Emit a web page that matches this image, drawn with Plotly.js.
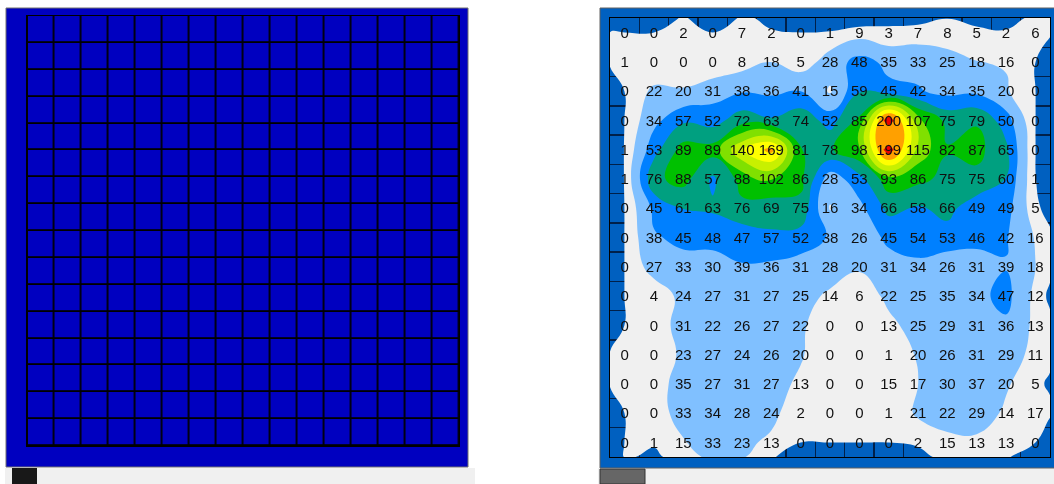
<!DOCTYPE html>
<html>
<head>
<meta charset="utf-8">
<script src="https://cdn.plot.ly/plotly-3.0.1.min.js"></script>
<style>
html,body{margin:0;padding:0;background:#fff;overflow:hidden}
#chart{width:1054px;height:484px;filter:blur(0.7px)}
</style>
</head>
<body>
<div id="chart"></div>
<script>
// Left map: all cells read as zero
var leftRows = 16, leftCols = 16;
var leftValues = [];
for (var r = 0; r < leftRows; r++) { leftValues.push(new Array(leftCols).fill(0)); }

// Right map: printed cell values
var row01 = [0,0,2,0,7,2,0,1,9,3,7,8,5,2,6];
var row02 = [1,0,0,0,8,18,5,28,48,35,33,25,18,16,0];
var row03 = [0,22,20,31,38,36,41,15,59,45,42,34,35,20,0];
var row04 = [0,34,57,52,72,63,74,52,85,200,107,75,79,50,0];
var row05 = [1,53,89,89,140,169,81,78,98,199,115,82,87,65,0];
var row06 = [1,76,88,57,88,102,86,28,53,93,86,75,75,60,1];
var row07 = [0,45,61,63,76,69,75,16,34,66,58,66,49,49,5];
var row08 = [0,38,45,48,47,57,52,38,26,45,54,53,46,42,16];
var row09 = [0,27,33,30,39,36,31,28,20,31,34,26,31,39,18];
var row10 = [0,4,24,27,31,27,25,14,6,22,25,35,34,47,12];
var row11 = [0,0,31,22,26,27,22,0,0,13,25,29,31,36,13];
var row12 = [0,0,23,27,24,26,20,0,0,1,20,26,31,29,11];
var row13 = [0,0,35,27,31,27,13,0,0,15,17,30,37,20,5];
var row14 = [0,0,33,34,28,24,2,0,0,1,21,22,29,14,17];
var row15 = [0,1,15,33,23,13,0,0,0,0,2,15,13,13,0];
var cellValues = [row01,row02,row03,row04,row05,row06,row07,row08,row09,row10,row11,row12,row13,row14,row15];

// Estimated field values along the outer edge of the map (corner, 15 cells, corner)
var edgeTop    = [-30,-30,-30,5,-30,5,-8,-30,-15,-15,-5,-7,-1,-8,-10,5,5];
var edgeBottom = [-30,1,-3,5,25,20,5,-30,-30,-30,-30,-6,5,5,5,-30,-30];
// left and right edges, one per row
var edgeLeft  = [0,2,-30,-30,-30,-30,-30,-30,-30,-30,-30,1,1,-30,-30];
var edgeRight = [5,-30,-30,-30,-30,-30,-10,5,5,-5,5,5,-4,5,-30];
// value of an off-map ring, outside the visible axis range, so every contour closes
var offMap = -30;

var lowColors = ['rgba(0,0,0,0)','#f0f0f0','#80c0ff'];
var highColors = ['rgba(0,0,0,0)','#0080ff','#00a080','#00c000','#80e000','#c8f000','#ffff00','#ffa000','#ffa000','#ffa000'];
var peakThreshold = 199;

var W = 1054, H = 484;
function px(x){ return x / W; }
function py(y){ return 1 - y / H; }

var n = cellValues.length;
var centers = cellValues[0].map(function(_, i){ return i + 0.5; });
var xEdge = [-1, 0].concat(centers, [n, n + 1]);
var yEdge = xEdge.slice();
function padRow(a){ return [offMap].concat(a, [offMap]); }
var field = [new Array(n + 4).fill(offMap), padRow(edgeTop)];
cellValues.forEach(function(row, i){ field.push(padRow([edgeLeft[i]].concat(row, [edgeRight[i]]))); });
field.push(padRow(edgeBottom));
field.push(new Array(n + 4).fill(offMap));

function steps(colors){
  var scale = [];
  colors.forEach(function(c, i){
    scale.push([i / colors.length, c]);
    scale.push([(i + 1) / colors.length, c]);
  });
  return scale;
}

var textX = [], textY = [], textS = [], peakX = [], peakY = [];
cellValues.forEach(function(row, r){
  row.forEach(function(v, c){
    textX.push(c + 0.5); textY.push(r + 0.55); textS.push(String(v));
    if (v >= peakThreshold) { peakX.push(c + 0.5); peakY.push(r + 0.5); }
  });
});

var traces = [
  { type:'heatmap', z:leftValues, x0:0.5, dx:1, y0:0.5, dy:1, xaxis:'x', yaxis:'y',
    colorscale:[[0,'#0000c0'],[1,'#0000c0']], zmin:0, zmax:1, showscale:false, xgap:1.8, ygap:1.8, hoverinfo:'skip' },
  { type:'contour', z:field, x:xEdge, y:yEdge, xaxis:'x2', yaxis:'y2',
    contours:{start:-0.5, end:17.5, size:18, coloring:'fill', showlines:false},
    line:{width:0, smoothing:1.3}, colorscale:steps(lowColors), zmin:-18.5, zmax:35.5, showscale:false, hoverinfo:'skip' },
  { type:'contour', z:field, x:xEdge, y:yEdge, xaxis:'x2', yaxis:'y2',
    contours:{start:40.1, end:202.5, size:20.3, coloring:'fill', showlines:false},
    line:{width:0, smoothing:1.3}, colorscale:steps(highColors), zmin:19.8, zmax:222.8, showscale:false, hoverinfo:'skip' },
  { type:'scatter', mode:'markers', x:peakX, y:peakY, xaxis:'x2', yaxis:'y2',
    marker:{symbol:'diamond', size:8, color:'#f00000'}, hoverinfo:'skip', showlegend:false },
  { type:'scatter', mode:'text', x:textX, y:textY, text:textS, xaxis:'x2', yaxis:'y2',
    textposition:'middle center', textfont:{family:'"Liberation Sans", Arial, sans-serif', size:15, color:'#101010'},
    hoverinfo:'skip', showlegend:false }
];

function axis(domain, range, extra){
  return Object.assign({domain:domain, range:range, showticklabels:false, ticks:'', zeroline:false,
    showgrid:false, showline:true, mirror:true, linecolor:'#000000', linewidth:1.4, fixedrange:true}, extra || {});
}

function rect(x0,y0,x1,y1,color,lineColor){
  return {type:'rect', xref:'paper', yref:'paper', layer:'below', x0:px(x0), x1:px(x1), y0:py(y0), y1:py(y1),
    fillcolor:color, line:{width:lineColor?1:0, color:lineColor||color}};
}

var layout = {
  width:W, height:H, autosize:false,
  margin:{l:0,r:0,t:0,b:0,pad:0},
  paper_bgcolor:'#ffffff', plot_bgcolor:'rgba(0,0,0,0)', showlegend:false,
  xaxis:axis([px(27.5),px(459)],[0,leftCols],{anchor:'y'}),
  yaxis:axis([py(446),py(16)],[leftRows,0],{anchor:'x'}),
  xaxis2:axis([px(610),px(1050)],[0,n],{anchor:'y2',showgrid:true,gridcolor:'#00204a',gridwidth:1.4,dtick:1,tick0:0}),
  yaxis2:axis([py(457),py(18)],[n,0],{anchor:'x2',showgrid:true,gridcolor:'#00204a',gridwidth:1.4,dtick:1,tick0:0}),
  shapes:[
    rect(5,468,475,484,'#f0f0f0'),
    rect(598,468,1054,484,'#f0f0f0'),
    rect(12,468,37,484,'#181818'),
    rect(600,469,645,484,'#666666','#333333'),
    rect(6,8,468,467,'#0000c0','#707070'),
    rect(600,8,1056,468,'#0060c0','#606060'),
    rect(27.5,16,459,446,'#000000')
  ]
};

Plotly.newPlot('chart', traces, layout, {displayModeBar:false, staticPlot:true});
</script>
</body>
</html>
